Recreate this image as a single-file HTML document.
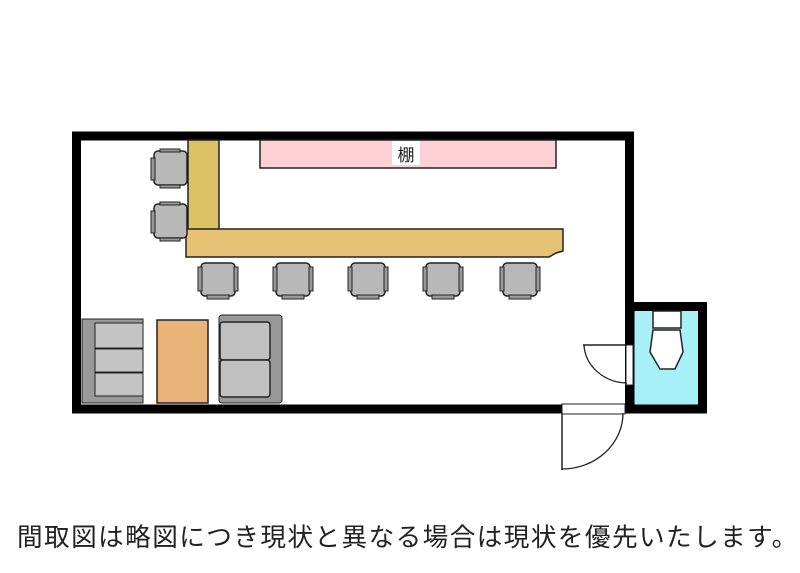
<!DOCTYPE html>
<html><head><meta charset="utf-8"><style>
html,body{margin:0;padding:0;background:#fff;width:800px;height:573px;overflow:hidden}
.t{position:absolute;left:17px;top:523px;font:25.6px/26px "Noto Sans CJK JP",sans-serif;letter-spacing:1.45px;color:#222;white-space:nowrap}
</style></head><body>
<svg width="800" height="573" style="position:absolute;left:0;top:0">
<defs>
<g id="ch">
<rect x="3" y="0" width="34" height="33" rx="4" fill="#b8b8b8" stroke="#222" stroke-width="1.5"/>
<rect x="0" y="4" width="4" height="24" fill="#999" stroke="#222" stroke-width="1"/>
<rect x="36" y="4" width="4" height="24" fill="#999" stroke="#222" stroke-width="1"/>
<rect x="9" y="32" width="22" height="4" fill="#999" stroke="#222" stroke-width="1"/>
</g>
<g id="chl">
<rect x="3" y="0" width="33" height="34" rx="4" fill="#b8b8b8" stroke="#222" stroke-width="1.5"/>
<rect x="0" y="7" width="4" height="22" fill="#999" stroke="#222" stroke-width="1"/>
<rect x="9" y="-2" width="20" height="3" fill="#999" stroke="#222" stroke-width="1"/>
<rect x="9" y="34" width="20" height="3" fill="#999" stroke="#222" stroke-width="1"/>
</g>
</defs>
<rect x="76.5" y="136" width="553" height="273" fill="#fff" stroke="#000" stroke-width="9"/>
<rect x="630" y="306.5" width="72.5" height="102.5" fill="#a8f0f8" stroke="#000" stroke-width="9"/>
<rect x="653" y="311" width="28" height="17" fill="#fff" stroke="#222" stroke-width="1.5"/>
<path d="M653,330 L680,330 L683,352 L675,369 L660,369 L650,352 Z" fill="#fff" stroke="#222" stroke-width="1.5"/>
<rect x="626" y="345" width="7" height="40" fill="#fff" stroke="#222" stroke-width="1"/>
<line x1="583" y1="345" x2="627" y2="345" stroke="#222" stroke-width="1.5"/>
<path d="M584,345 A44,40 0 0 0 627,383" fill="none" stroke="#222" stroke-width="1.3"/>
<rect x="562" y="404" width="63" height="10" fill="#fff" stroke="#222" stroke-width="1"/>
<line x1="562" y1="413" x2="562" y2="470" stroke="#222" stroke-width="1.5"/>
<path d="M562,469 A61,56 0 0 0 623,413" fill="none" stroke="#222" stroke-width="1.3"/>
<rect x="260" y="140" width="296" height="28" fill="#fcd0d4" stroke="#222" stroke-width="1.5"/>
<rect x="392" y="141" width="28" height="24" fill="#fff"/>
<text x="406" y="161" font-family="Noto Sans CJK JP,sans-serif" font-size="17" text-anchor="middle" fill="#222">棚</text>
<rect x="188" y="140" width="31" height="91" fill="#dcc264" stroke="#222" stroke-width="1.5"/>
<path d="M186,229 L563,229 L563,251 L556,253 L549,257 L186,257 Z" fill="#e8c274" stroke="#222" stroke-width="1.5"/>
<use href="#chl" x="151" y="151"/>
<use href="#chl" x="151" y="204"/>
<use href="#ch" x="198" y="263"/>
<use href="#ch" x="273" y="263"/>
<use href="#ch" x="348" y="263"/>
<use href="#ch" x="423" y="263"/>
<use href="#ch" x="500" y="263"/>
<rect x="82" y="319" width="61" height="84" fill="#999" stroke="#222" stroke-width="1"/>
<rect x="95" y="323" width="48" height="25" fill="#c4c4c4" stroke="#222" stroke-width="1"/>
<rect x="95" y="349" width="48" height="23" fill="#c4c4c4" stroke="#222" stroke-width="1"/>
<rect x="95" y="373" width="48" height="23" fill="#c4c4c4" stroke="#222" stroke-width="1"/>
<rect x="157" y="320" width="51" height="83" fill="#e8b478" stroke="#222" stroke-width="1.5"/>
<rect x="219" y="315" width="63" height="88" rx="3" fill="#999" stroke="#222" stroke-width="1"/>
<rect x="220" y="322" width="50" height="38" rx="3" fill="#c0c0c0" stroke="#222" stroke-width="1.5"/>
<rect x="220" y="360" width="50" height="37" rx="3" fill="#c0c0c0" stroke="#222" stroke-width="1.5"/>
</svg>
<div class="t">間取図は略図につき現状と異なる場合は現状を優先いたします。</div>
</body></html>
